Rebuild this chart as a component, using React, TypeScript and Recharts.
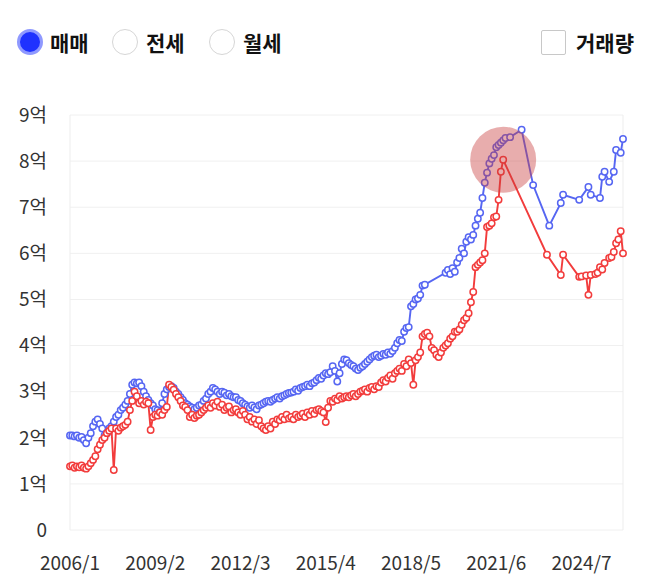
import {
  LineChart,
  Line,
  XAxis,
  YAxis,
  CartesianGrid,
  ReferenceDot,
  ReferenceLine,
} from "recharts";

// monthly categories 2006/1 .. 2026/1
const months: string[] = [];
for (let y = 2006; y <= 2026; y++) {
  for (let m = 1; m <= 12; m++) {
    if (y === 2026 && m > 1) break;
    months.push(`${y}/${m}`);
  }
}

// 억 단위, null = no trade that month
const highPrice = [
  2.05, 2.05, 2.03, 2.05, 2.0, 2.02, 1.95, 1.88, 2.0, 2.1, 2.25, 2.35, // 2006
  2.4, 2.3, 2.2, 2.05, 2.1, 2.2, 2.25, 2.35, 2.45, 2.5, 2.6, 2.65, // 2007
  2.72, 2.8, 2.95, 3.15, 3.2, 3.18, 3.2, 3.12, 3.0, 2.9, 2.82, 2.75, // 2008
  2.7, 2.62, 2.6, 2.56, 2.75, 2.95, 3.05, 3.1, 3.12, 3.08, 3.0, 2.95, // 2009
  2.88, 2.82, 2.75, 2.72, 2.68, 2.65, 2.62, 2.65, 2.7, 2.72, 2.8, 2.85, // 2010
  2.95, 3.0, 3.08, 3.05, 3.0, 2.95, 3.0, 2.98, 2.92, 2.95, 2.9, 2.88, // 2011
  2.88, 2.82, 2.8, 2.75, 2.72, 2.68, 2.65, 2.7, 2.66, 2.62, 2.7, 2.72, // 2012
  2.75, 2.78, 2.8, 2.78, 2.82, 2.85, 2.88, 2.85, 2.9, 2.92, 2.95, 2.97, // 2013
  2.98, 3.0, 3.05, 3.02, 3.08, 3.1, 3.12, 3.15, 3.12, 3.18, 3.2, 3.25, // 2014
  3.3, 3.28, 3.35, 3.4, 3.38, 3.42, 3.55, 3.45, 3.22, 3.4, 3.6, 3.7, // 2015
  3.68, 3.62, 3.58, 3.55, 3.5, 3.47, 3.52, 3.55, 3.6, 3.65, 3.7, 3.75, // 2016
  3.78, 3.8, 3.75, 3.78, 3.82, 3.8, 3.85, 3.82, 3.88, 3.95, 4.05, 4.12, // 2017
  4.1, 4.3, 4.38, 4.4, 4.85, 4.9, 5.0, 5.02, 5.1, 5.3, 5.32, null, // 2018
  null, null, null, null, null, null, null, 5.58, 5.64, 5.55, 5.68, 5.6, // 2019
  5.8, 5.9, 6.1, 6.0, 6.25, 6.35, 6.3, 6.4, 6.6, 6.75, 6.88, 7.2, // 2020
  7.53, 7.75, 7.95, 8.05, 8.13, 8.3, 8.35, 8.4, 8.45, 8.5, null, 8.52, // 2021
  null, null, null, null, 8.68, null, null, null, null, 7.48, null, null, // 2022
  null, null, null, null, 6.6, null, null, null, null, 7.09, 7.27, null, // 2023
  null, null, null, null, null, 7.16, null, null, null, 7.44, 7.27, null, // 2024
  null, null, 7.2, 7.66, 7.77, null, 7.55, null, 7.77, 8.24, null, 8.18, // 2025
  8.48, // 2026
];

const lowPrice = [
  1.38, 1.4, 1.35, 1.38, 1.36, 1.4, 1.35, 1.33, 1.38, 1.45, 1.52, 1.6, // 2006
  1.75, 1.85, 1.95, 2.0, 2.1, 2.15, 2.2, 1.3, 2.2, 2.15, 2.22, 2.25, // 2007
  2.28, 2.35, 2.6, 2.8, 3.0, 2.9, 2.75, 2.8, 2.72, 2.78, 2.75, 2.17, // 2008
  2.45, 2.5, 2.48, 2.55, 2.5, 2.6, 2.67, 3.15, 3.1, 3.04, 2.95, 2.88, // 2009
  2.8, 2.7, 2.67, 2.6, 2.45, 2.5, 2.43, 2.48, 2.5, 2.55, 2.6, 2.65, // 2010
  2.7, 2.65, 2.75, 2.7, 2.78, 2.67, 2.72, 2.6, 2.65, 2.68, 2.55, 2.6, // 2011
  2.62, 2.55, 2.5, 2.58, 2.5, 2.4, 2.45, 2.35, 2.4, 2.3, 2.38, 2.25, // 2012
  2.2, 2.17, 2.25, 2.2, 2.35, 2.3, 2.4, 2.38, 2.45, 2.4, 2.5, 2.42, // 2013
  2.45, 2.4, 2.5, 2.45, 2.48, 2.52, 2.45, 2.55, 2.5, 2.58, 2.52, 2.6, // 2014
  2.62, 2.58, 2.55, 2.34, 2.65, 2.8, 2.78, 2.85, 2.82, 2.9, 2.85, 2.88, // 2015
  2.9, 2.88, 2.92, 2.95, 2.9, 2.95, 3.0, 3.02, 3.05, 3.0, 3.08, 3.1, // 2016
  3.05, 3.12, 3.1, 3.2, 3.25, 3.22, 3.3, 3.35, 3.28, 3.4, 3.45, 3.5, // 2017
  3.45, 3.6, 3.55, 3.7, 3.62, 3.15, 3.68, 3.75, 3.85, 4.2, 4.25, 4.28, // 2018
  4.2, 3.95, 3.9, 3.8, 3.75, 3.85, 3.95, 4.0, 4.05, 4.15, 4.2, 4.3, // 2019
  4.3, 4.35, 4.45, 4.55, 4.6, 4.7, 4.94, 5.16, 5.7, 5.75, 5.8, 5.85, // 2020
  6.0, 6.57, 6.6, 6.65, 6.78, 6.8, 7.16, 7.77, 8.03, null, null, null, // 2021
  null, null, null, null, null, null, null, null, null, null, null, null, // 2022
  null, null, null, 5.97, null, null, null, null, null, 5.53, 5.97, null, // 2023
  null, null, null, null, null, 5.49, 5.5, null, 5.52, 5.1, 5.53, null, // 2024
  5.55, 5.58, 5.7, 5.65, 5.79, null, 5.9, 5.92, 6.03, 6.22, 6.3, 6.48, // 2025
  6.0, // 2026
];

const yTicks = [0, 1, 2, 3, 4, 5, 6, 7, 8, 9];
const highlightMonth = "2021/9";
const highlightValue = 8.03;

const radioOptions = ["매매", "전세", "월세"];
const volumeLabel = "거래량";

const data = months.map((month, i) => ({
  month,
  high: highPrice[i],
  low: lowPrice[i],
}));

const FONT = '"Noto Sans CJK KR", "Noto Sans", sans-serif';
const BLUE = "#5666f2";
const RED = "#f23c3c";

const radioX = [30, 125, 222];
const textX = [50, 146, 243];

export default function App() {
  return (
    <div
      style={{
        position: "absolute",
        left: 0,
        top: 0,
        width: 669,
        height: 581,
        background: "#fff",
        fontFamily: FONT,
      }}
    >
      <LineChart
        width={669}
        height={581}
        data={data}
        margin={{ top: 115, right: 46, bottom: 21, left: 0 }}
        style={{ fontFamily: FONT }}
      >
        <CartesianGrid vertical={false} stroke="#f0f0f0" />
        <ReferenceLine x={months[0]} stroke="#ededed" />
        <ReferenceLine x={months[months.length - 1]} stroke="#ededed" />
        <XAxis
          dataKey="month"
          interval={36}
          axisLine={false}
          tickLine={false}
          tickSize={0}
          tickMargin={27}
          height={30}
          tick={{ fill: "#333", fontSize: 19 }}
        />
        <YAxis
          domain={[0, 9]}
          ticks={yTicks}
          tickFormatter={(v: number) => (v === 0 ? "0" : `${v}억`)}
          axisLine={false}
          tickLine={false}
          tickSize={0}
          tickMargin={23}
          width={70}
          tick={{ fill: "#333", fontSize: 19 }}
        />
        <Line
          isAnimationActive={false}
          type="linear"
          dataKey="high"
          stroke={BLUE}
          strokeWidth={1.9}
          connectNulls
          dot={{ r: 3.2, fill: "#fff", stroke: BLUE, strokeWidth: 1.5 }}
          activeDot={false}
        />
        <Line
          isAnimationActive={false}
          type="linear"
          dataKey="low"
          stroke={RED}
          strokeWidth={1.9}
          connectNulls
          dot={{ r: 3.2, fill: "#fff", stroke: RED, strokeWidth: 1.5 }}
          activeDot={false}
        />
        <ReferenceDot
          x={highlightMonth}
          y={highlightValue}
          r={33}
          fill="#c83c3c"
          fillOpacity={0.42}
          stroke="none"
        />
      </LineChart>

      {radioOptions.map((label, i) => (
        <div key={label}>
          <div
            style={{
              position: "absolute",
              left: radioX[i] - 13,
              top: 42 - 13,
              width: 26,
              height: 26,
              borderRadius: "50%",
              boxSizing: "border-box",
              background: i === 0 ? "#1f32ff" : "#fff",
              border: i === 0 ? "3px solid #8f99ff" : "1.5px solid #d6d6d6",
            }}
          />
          <div
            style={{
              position: "absolute",
              left: textX[i],
              top: 42 - 15,
              lineHeight: "30px",
              fontSize: 21,
              fontWeight: 700,
              color: "#111",
              whiteSpace: "nowrap",
            }}
          >
            {label}
          </div>
        </div>
      ))}
      <div
        style={{
          position: "absolute",
          left: 541,
          top: 30,
          width: 25,
          height: 25,
          boxSizing: "border-box",
          border: "1.5px solid #c8c8c8",
          borderRadius: 2,
          background: "#fff",
        }}
      />
      <div
        style={{
          position: "absolute",
          left: 576,
          top: 42 - 15,
          lineHeight: "30px",
          fontSize: 21,
          fontWeight: 700,
          color: "#111",
          whiteSpace: "nowrap",
        }}
      >
        {volumeLabel}
      </div>
    </div>
  );
}
